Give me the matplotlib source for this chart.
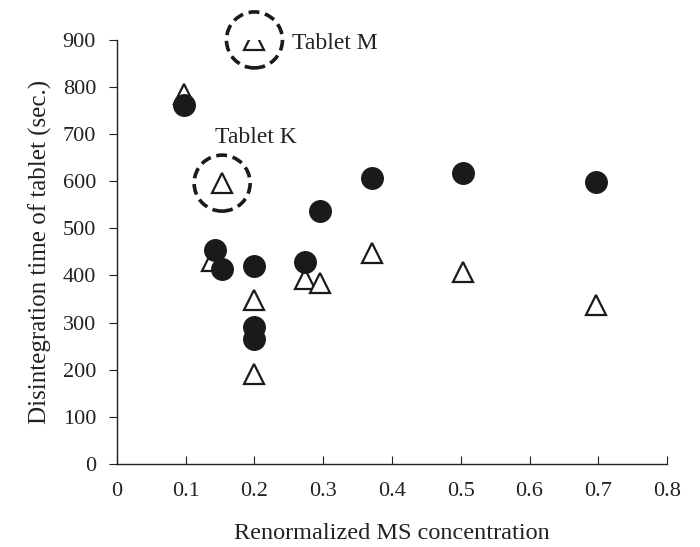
import numpy as np
import matplotlib.pyplot as plt
import matplotlib.transforms as mtransforms
from matplotlib.patches import Circle

plt.rcParams.update({
    'font.family': 'serif',
    'font.serif': ['Liberation Serif', 'DejaVu Serif'],
    'font.size': 16,
})

# filled circles
circle_x = [0.097, 0.143, 0.153, 0.200, 0.200, 0.200, 0.274, 0.295, 0.371, 0.503, 0.697]
circle_y = [762, 454, 414, 420, 291, 266, 429, 536, 606, 617, 598]

# open triangles
tri_x = [0.097, 0.138, 0.153, 0.200, 0.200, 0.200, 0.273, 0.295, 0.371, 0.503, 0.697]
tri_y = [786, 430, 596, 348, 190, 900, 392, 385, 448, 408, 337]

# highlighted tablets: (label, x, y)
highlights = [('Tablet K', 0.153, 596), ('Tablet M', 0.200, 900)]

fig = plt.figure(figsize=(7, 5.47), dpi=100)
ax = fig.add_axes([0.167, 0.152, 0.786, 0.775])

ax.plot(tri_x, tri_y, linestyle='none', marker='^', markersize=15,
        markerfacecolor='white', markeredgecolor='#1a1a1a', markeredgewidth=1.6, zorder=3)
ax.plot(circle_x, circle_y, linestyle='none', marker='o', markersize=15.5,
        markerfacecolor='#1a1a1a', markeredgecolor='#1a1a1a', zorder=4)

# dashed rings around the two outlier tablets
for name, hx, hy in highlights:
    trans = fig.dpi_scale_trans + mtransforms.ScaledTranslation(hx, hy, ax.transData)
    ring = Circle((0, 0), 0.28, transform=trans, fill=False, edgecolor='#1a1a1a',
                  linewidth=2.6, linestyle=(0, (3, 1.6)), clip_on=False, zorder=5)
    ax.add_patch(ring)

ax.text(0.142, 692, 'Tablet K', ha='left', va='center', fontsize=17, color='#222222')
ax.text(0.255, 892, 'Tablet M', ha='left', va='center', fontsize=17, color='#222222')

ax.set_xlim(0, 0.8)
ax.set_ylim(0, 900)
ax.set_xticks(np.arange(0, 0.81, 0.1))
ax.set_xticklabels(['0', '0.1', '0.2', '0.3', '0.4', '0.5', '0.6', '0.7', '0.8'])
ax.set_yticks(np.arange(0, 901, 100))

for side in ['top', 'right']:
    ax.spines[side].set_visible(False)
for side in ['left', 'bottom']:
    ax.spines[side].set_linewidth(1.0)
    ax.spines[side].set_color('#222222')

ax.tick_params(axis='x', direction='in', length=6, pad=13, colors='#222222')
ax.tick_params(axis='y', direction='out', length=6, pad=9, colors='#222222')

ax.set_xlabel('Renormalized MS concentration', fontsize=17.5, labelpad=16, color='#222222')
ax.set_ylabel('Disintegration time of tablet (sec.)', fontsize=18, labelpad=8, color='#222222')

fig.savefig('out.png', dpi=100)
